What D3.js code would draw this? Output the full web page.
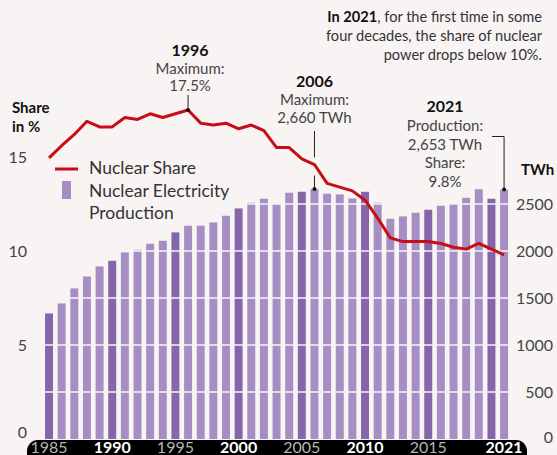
<!DOCTYPE html>
<html>
<head>
<meta charset="utf-8">
<script src="https://cdn.jsdelivr.net/npm/d3@7"></script>
<style>
  body { margin: 0; background: #f7f4f3; }
  svg { display: block; font-family: Lato, "Open Sans", sans-serif; }
</style>
</head>
<body>
<div id="chart"></div>
<script>
// data
var years = [1985, 1986, 1987, 1988, 1989, 1990, 1991, 1992, 1993, 1994,
             1995, 1996, 1997, 1998, 1999, 2000, 2001, 2002, 2003, 2004,
             2005, 2006, 2007, 2008, 2009, 2010, 2011, 2012, 2013, 2014,
             2015, 2016, 2017, 2018, 2019, 2020, 2021];
var productionTWh = [1336, 1442, 1602, 1729, 1836, 1896, 1985, 2013, 2077, 2109,
                     2198, 2269, 2269, 2304, 2375, 2453, 2513, 2556, 2503, 2620,
                     2630, 2660, 2609, 2602, 2559, 2630, 2513, 2343, 2368, 2407,
                     2439, 2481, 2503, 2566, 2657, 2556, 2653];
var sharePct = [14.95, 15.6, 16.2, 16.9, 16.6, 16.6, 17.1, 17.0, 17.3, 17.1,
                17.3, 17.5, 16.8, 16.7, 16.8, 16.5, 16.7, 16.4, 15.5, 15.5,
                14.9, 14.6, 13.6, 13.4, 13.2, 12.7, 11.75, 10.7, 10.5, 10.5,
                10.5, 10.4, 10.2, 10.1, 10.4, 10.1, 9.8];
var shareTicks = [0, 5, 10, 15];
var twhTicks = [0, 500, 1000, 1500, 2000, 2500];
var yearLabels = [1985, 1990, 1995, 2000, 2005, 2010, 2015, 2021];
var boldYears = [1990, 2000, 2010, 2021];

var w = 557, h = 455;
var red = "#c70d16", purple = "#a68ec5", purpleDark = "#8666aa";

var svg = d3.select("#chart").append("svg")
  .attr("width", w)
  .attr("height", h);

svg.append("rect").attr("width", w).attr("height", h).attr("fill", "#f7f4f3");

// scales: 5 % on the left lines up with 1000 TWh on the right
var x = d3.scaleBand().domain(years).range([42.7, 510.4])
  .paddingInner(0.37).paddingOuter(0.185);
var yShare = d3.scaleLinear().domain([0, 15]).range([439, 157]);
var yTWh = d3.scaleLinear().domain([0, 3000]).range([439, 157]);
var cx = function(yr) { return x(yr) + x.bandwidth() / 2; };

// bars
svg.selectAll("rect.bar")
  .data(years)
  .enter()
  .append("rect")
  .attr("class", "bar")
  .attr("x", function(d) { return x(d); })
  .attr("width", x.bandwidth())
  .attr("y", function(d, i) { return yTWh(productionTWh[i]); })
  .attr("height", function(d, i) { return yTWh(0) - yTWh(productionTWh[i]); })
  .attr("fill", function(d) { return d % 5 === 0 ? purpleDark : purple; });

// white grid lines over the bars
svg.selectAll("line.grid")
  .data(twhTicks.slice(1))
  .enter()
  .append("line")
  .attr("x1", 40).attr("x2", 510)
  .attr("y1", function(d) { return yTWh(d); })
  .attr("y2", function(d) { return yTWh(d); })
  .attr("stroke", "#f7f4f3")
  .attr("stroke-width", 1.5);

// share line
var line = d3.line()
  .x(function(d, i) { return cx(years[i]); })
  .y(function(d) { return yShare(d); });

svg.append("path")
  .datum(sharePct)
  .attr("d", line)
  .attr("fill", "none")
  .attr("stroke", red)
  .attr("stroke-width", 3)
  .attr("stroke-linejoin", "round");

// left axis labels
svg.selectAll("text.ls")
  .data(shareTicks)
  .enter()
  .append("text")
  .attr("x", 27)
  .attr("y", function(d) { return Math.min(yShare(d) + 6, 438); })
  .attr("text-anchor", "end")
  .attr("font-size", 16)
  .attr("fill", "#444")
  .text(function(d) { return d; });

// right axis labels
svg.selectAll("text.rs")
  .data(twhTicks)
  .enter()
  .append("text")
  .attr("x", 553)
  .attr("y", function(d) { return d === 0 ? 443 : yTWh(d) + 6; })
  .attr("text-anchor", "end")
  .attr("font-size", 16)
  .attr("fill", "#444")
  .text(function(d) { return d; });

// axis titles
var lt = svg.append("text").attr("font-size", 15).attr("font-weight", "bold").attr("fill", "#111");
lt.append("tspan").attr("x", 12).attr("y", 113).text("Share");
lt.append("tspan").attr("x", 12).attr("y", 132).text("in %");
svg.append("text").attr("x", 521).attr("y", 175)
  .attr("font-size", 15).attr("font-weight", "bold").attr("fill", "#111")
  .text("TWh");

// x axis: black pill with years
svg.append("rect")
  .attr("x", 27).attr("y", 440).attr("width", 500).attr("height", 30)
  .attr("rx", 11).attr("fill", "#000");
svg.selectAll("text.yr")
  .data(yearLabels)
  .enter()
  .append("text")
  .attr("x", function(d) { return cx(d); })
  .attr("y", 453)
  .attr("text-anchor", "middle")
  .attr("font-size", 16)
  .attr("font-weight", function(d) { return boldYears.indexOf(d) >= 0 ? "bold" : "normal"; })
  .attr("fill", function(d) { return boldYears.indexOf(d) >= 0 ? "#fff" : "#b5b5b5"; })
  .text(function(d) { return d; });

// legend
svg.append("line").attr("x1", 55).attr("x2", 78).attr("y1", 169).attr("y2", 169)
  .attr("stroke", red).attr("stroke-width", 3);
svg.append("text").attr("x", 89).attr("y", 174).attr("font-size", 17.5).attr("fill", "#333")
  .text("Nuclear Share");
svg.append("rect").attr("x", 62).attr("y", 181).attr("width", 9).attr("height", 18)
  .attr("fill", purple);
var lg = svg.append("text").attr("font-size", 17.5).attr("fill", "#333");
lg.append("tspan").attr("x", 89).attr("y", 197).text("Nuclear Electricity");
lg.append("tspan").attr("x", 89).attr("y", 219).text("Production");

// annotations
function note(xc, lines) {
  lines.forEach(function(l) {
    svg.append("text").attr("text-anchor", "middle")
      .attr("x", xc).attr("y", l[1])
      .attr("font-size", l[2] ? 16 : 15)
      .attr("font-weight", l[2] ? "bold" : "normal")
      .attr("fill", l[2] ? "#111" : "#444")
      .text(l[0]);
  });
}
function dot(px, py) {
  svg.append("circle").attr("cx", px).attr("cy", py).attr("r", 2).attr("fill", "#111");
}

// 1996 share maximum
var i96 = years.indexOf(1996);
note(cx(1996) + 2, [["1996", 55.5, true], ["Maximum:", 73.5], ["17.5%", 91]]);
svg.append("line").attr("x1", cx(1996)).attr("x2", cx(1996))
  .attr("y1", 95).attr("y2", yShare(sharePct[i96]))
  .attr("stroke", "#222").attr("stroke-width", 1);
dot(cx(1996), yShare(sharePct[i96]));

// 2006 production maximum
var i06 = years.indexOf(2006);
note(cx(2006), [["2006", 87, true], ["Maximum:", 105], ["2,660 TWh", 123]]);
svg.append("line").attr("x1", cx(2006)).attr("x2", cx(2006))
  .attr("y1", 131).attr("y2", yShare(sharePct[i06]) - 7)
  .attr("stroke", "#222").attr("stroke-width", 1);
svg.append("line").attr("x1", cx(2006)).attr("x2", cx(2006))
  .attr("y1", yShare(sharePct[i06]) + 11).attr("y2", yTWh(productionTWh[i06]))
  .attr("stroke", "#222").attr("stroke-width", 1);
dot(cx(2006), yTWh(productionTWh[i06]));

// 2021
var i21 = years.indexOf(2021);
note(445, [["2021", 112, true], ["Production:", 131], ["2,653 TWh", 150], ["Share:", 168], ["9.8%", 187]]);
svg.append("path")
  .attr("d", "M492,136.5H" + cx(2021) + "V" + yTWh(productionTWh[i21]))
  .attr("fill", "none").attr("stroke", "#222").attr("stroke-width", 1);
dot(cx(2021), yTWh(productionTWh[i21]));

// top-right comment
var c = svg.append("text").attr("text-anchor", "end").attr("font-size", 14.6).attr("fill", "#333");
var c1 = c.append("tspan").attr("x", 542).attr("y", 22);
c1.append("tspan").attr("font-weight", "bold").attr("fill", "#111").text("In 2021");
c1.append("tspan").text(", for the first time in some");
c.append("tspan").attr("x", 542).attr("y", 41).text("four decades, the share of nuclear");
c.append("tspan").attr("x", 542).attr("y", 60).text("power drops below 10%.");
</script>
</body>
</html>
